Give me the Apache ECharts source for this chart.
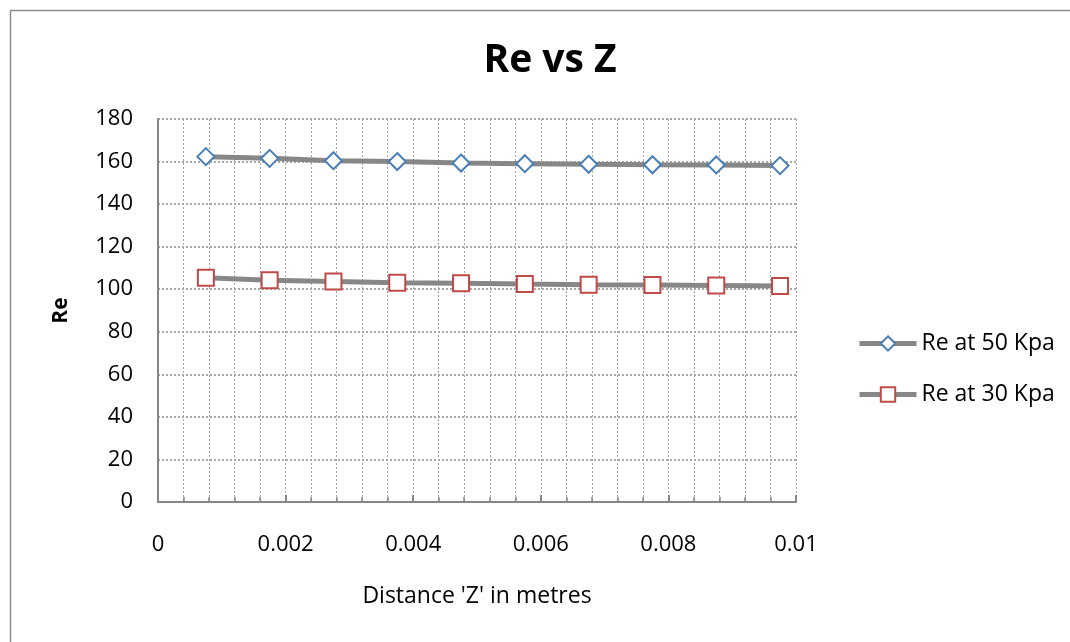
<!DOCTYPE html>
<html>
<head>
<meta charset="utf-8">
<script src="https://cdn.jsdelivr.net/npm/echarts@6/dist/echarts.min.js"></script>
<style>html,body{margin:0;padding:0;background:#fff;}#c{width:1070px;height:642px;}</style>
</head>
<body>
<div id="c"></div>
<script>
var zValues = [0.00075, 0.00175, 0.00275, 0.00375, 0.00475, 0.00575, 0.00675, 0.00775, 0.00875, 0.00975];
var re50 = [162.3, 161.5, 160.4, 160.0, 159.3, 159.0, 158.7, 158.5, 158.4, 158.1];
var re30 = [105.4, 104.2, 103.6, 103.1, 102.8, 102.4, 102.1, 102.0, 101.8, 101.5];
var seriesNames = ['Re at 50 Kpa', 'Re at 30 Kpa'];
var yTicks = [0, 20, 40, 60, 80, 100, 120, 140, 160, 180];
var xTicks = [0, 0.002, 0.004, 0.006, 0.008, 0.01];

function pairs(xs, ys) { return xs.map(function (x, i) { return [x, ys[i]]; }); }

var FONT = '"Open Sans", "Liberation Sans", sans-serif';
var chart = echarts.init(document.getElementById('c'));
chart.setOption({
  animation: false,
  backgroundColor: '#fff',
  graphic: [{
    type: 'rect', left: 8, top: 8, z: -1,
    shape: { width: 1100, height: 700 },
    style: { fill: 'none', stroke: '#8c8c8c', lineWidth: 1.5 }
  }],
  title: {
    text: 'Re vs Z', left: 545, top: 36, textAlign: 'center',
    textStyle: { fontFamily: FONT, fontSize: 39, fontWeight: 'bold', color: '#000' }
  },
  legend: {
    orient: 'vertical', left: 852, top: 327, itemWidth: 57, itemHeight: 18, itemGap: 28,
    data: seriesNames,
    lineStyle: { width: 5, color: '#878787' },
    textStyle: { fontFamily: FONT, fontSize: 23, color: '#000' }
  },
  grid: { left: 158, right: 274, top: 119, bottom: 140, containLabel: false },
  xAxis: {
    type: 'value', min: xTicks[0], max: xTicks[xTicks.length - 1], interval: 0.002,
    name: "Distance 'Z' in metres", nameLocation: 'middle', nameGap: 83,
    nameTextStyle: { fontFamily: FONT, fontSize: 23, color: '#000' },
    axisLine: { show: true, onZero: false, lineStyle: { color: '#868686', width: 2 } },
    axisTick: { show: true, inside: true, length: 7, lineStyle: { color: '#868686', width: 2 } },
    minorTick: { show: true, splitNumber: 5, length: 5, lineStyle: { color: '#868686', width: 1.5 } },
    axisLabel: { fontFamily: FONT, fontSize: 22, color: '#000', margin: 32,
      formatter: function (v) { return String(+v.toFixed(4)); } },
    splitLine: { show: true, lineStyle: { color: '#a6a6a6', type: [2, 2], width: 1 } },
    minorSplitLine: { show: true, lineStyle: { color: '#a6a6a6', type: [2, 2], width: 1 } }
  },
  yAxis: {
    type: 'value', min: yTicks[0], max: yTicks[yTicks.length - 1], interval: 20,
    name: 'Re', nameLocation: 'middle', nameGap: 86, nameRotate: 90,
    nameTextStyle: { fontFamily: FONT, fontSize: 21, fontWeight: 'bold', color: '#000' },
    axisLine: { show: true, lineStyle: { color: '#868686', width: 2 } },
    axisTick: { show: false },
    axisLabel: { fontFamily: FONT, fontSize: 22, color: '#000', margin: 25 },
    splitLine: { show: true, lineStyle: { color: '#8c8c8c', type: [2, 2], width: 1.5 } }
  },
  series: [{
    name: seriesNames[0], type: 'line', data: pairs(zValues, re50),
    symbol: 'diamond', symbolSize: 17,
    lineStyle: { color: '#878787', width: 5 },
    itemStyle: { color: '#fff', borderColor: '#4a7ebb', borderWidth: 2 },
    z: 3
  }, {
    name: seriesNames[1], type: 'line', data: pairs(zValues, re30),
    symbol: 'rect', symbolSize: 16,
    lineStyle: { color: '#878787', width: 5 },
    itemStyle: { color: '#fff', borderColor: '#be4b48', borderWidth: 2 },
    z: 3
  }]
});
</script>
</body>
</html>
